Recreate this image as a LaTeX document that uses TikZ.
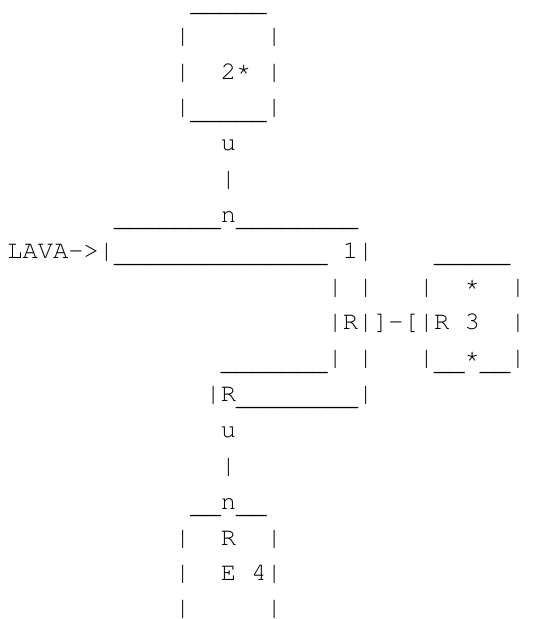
\documentclass[tikz,border=0pt]{standalone}
\usepackage[T1]{fontenc}
\usepackage{tikz}
\usetikzlibrary{positioning}
\newcommand\usc{\raisebox{-3.2pt}{\_}}
\newcommand\rstar{\raisebox{2.4pt}{*}}
\tikzset{asciirow/.style={anchor=base west, inner sep=0pt, outer sep=0pt, font=\fontfamily{pcr}\fontsize{19.05}{20}\selectfont}}
\begin{document}
\begin{tikzpicture}[x=0.75pt,y=-0.75pt]
\useasboundingbox (0,0) rectangle (533,619);
% one node per text row, col c at 7.5+15.24c
\node[asciirow] (r1) at ({7.5+15.24*12},7.3) {\usc\usc\usc\usc\usc};
\node[asciirow] (r2) at ({7.5+15.24*11},43.15) {|~~~~~|};
\node[asciirow] (r3) at ({7.5+15.24*11},79) {|~~2\rstar~|};
\node[asciirow] (r4) at ({7.5+15.24*11},114.85) {|\usc\usc\usc\usc\usc|};
\node[asciirow] (r5) at ({7.5+15.24*14},150.7) {u};
\node[asciirow] (r6) at ({7.5+15.24*14},186.55) {|};
\node[asciirow] (r7) at ({7.5+15.24*7},222.4) {\usc\usc\usc\usc\usc\usc\usc n\usc\usc\usc\usc\usc\usc\usc\usc};
\node[asciirow] (r8) at (7.5,258.25) {LAVA->|\usc\usc\usc\usc\usc\usc\usc\usc\usc\usc\usc\usc\usc\usc~1|~~~~\usc\usc\usc\usc\usc};
\node[asciirow] (r9) at ({7.5+15.24*21},294.1) {|~|~~~|~~\rstar~~|};
\node[asciirow] (r10) at ({7.5+15.24*21},329.95) {|R|]-[|R~3~~|};
\node[asciirow] (r11) at ({7.5+15.24*14},365.8) {\usc\usc\usc\usc\usc\usc\usc|~|~~~|\usc\usc\rstar\usc\usc|};
\node[asciirow] (r12) at ({7.5+15.24*13},401.65) {|R\usc\usc\usc\usc\usc\usc\usc\usc|};
\node[asciirow] (r13) at ({7.5+15.24*14},437.5) {u};
\node[asciirow] (r14) at ({7.5+15.24*14},473.35) {|};
\node[asciirow] (r15) at ({7.5+15.24*12},509.2) {\usc\usc n\usc\usc};
\node[asciirow] (r16) at ({7.5+15.24*11},545.05) {|~~R~~|};
\node[asciirow] (r17) at ({7.5+15.24*11},580.9) {|~~E~4|};
\node[asciirow] (r18) at ({7.5+15.24*11},615.5) {|~~~~~|};
\end{tikzpicture}
\end{document}
